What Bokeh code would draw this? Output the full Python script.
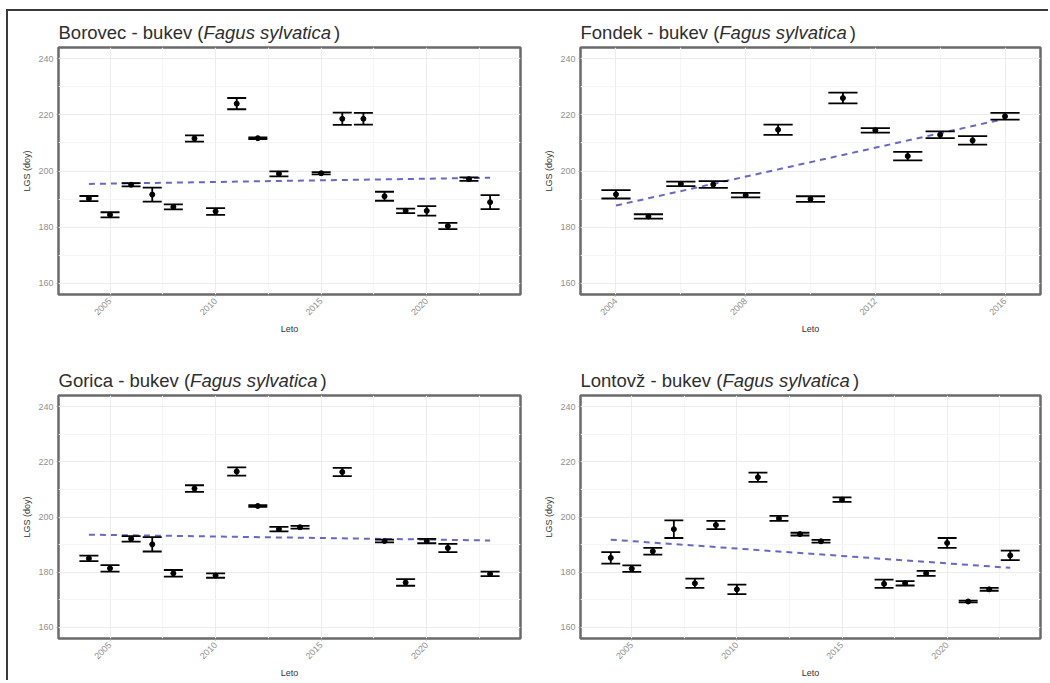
import math
from bokeh.plotting import figure
from bokeh.models import ColumnDataSource, Range1d, FixedTicker
from bokeh.core.properties import value
from bokeh.layouts import row, column
from bokeh.embed import file_html
from bokeh.resources import INLINE

# ---------------- data ----------------
species_common = "bukev"
species_latin = "Fagus sylvatica"
y_label = "LGS (doy)"
x_label = "Leto"
y_ticks = [160, 180, 200, 220, 240]
y_minor = [170, 190, 210, 230]
x_ticks_long = [2005, 2010, 2015, 2020]
x_minor_long = [2002.5, 2007.5, 2012.5, 2017.5, 2022.5]
x_ticks_fondek = [2004, 2008, 2012, 2016]
x_minor_fondek = [2002, 2006, 2010, 2014, 2018]

borovec_years = [2004, 2005, 2006, 2007, 2008, 2009, 2010, 2011, 2012, 2013,
                 2015, 2016, 2017, 2018, 2019, 2020, 2021, 2022, 2023]
borovec_lgs = [190.2, 184.4, 195.1, 191.6, 187.2, 211.6, 185.6, 224.0, 211.7, 199.0,
               199.2, 218.6, 218.6, 191.0, 185.8, 185.8, 180.4, 197.1, 188.9]
borovec_err = [0.9, 0.9, 0.6, 2.5, 0.9, 1.1, 1.2, 2.0, 0.3, 0.9,
               0.4, 2.2, 2.1, 1.6, 0.8, 1.7, 1.1, 0.6, 2.5]
borovec_trend_years = [2004, 2023]
borovec_trend_lgs = [195.4, 197.6]

fondek_years = [2004, 2005, 2006, 2007, 2008, 2009, 2010, 2011, 2012, 2013,
                2014, 2015, 2016]
fondek_lgs = [191.7, 183.8, 195.4, 195.2, 191.4, 214.7, 190.0, 226.0, 214.5, 205.3,
              212.9, 210.9, 219.5]
fondek_err = [1.5, 0.8, 0.8, 1.2, 0.8, 1.8, 1.0, 1.9, 0.8, 1.5,
              1.2, 1.5, 1.2]
fondek_trend_years = [2004, 2016]
fondek_trend_lgs = [187.7, 218.6]

gorica_years = [2004, 2005, 2006, 2007, 2008, 2009, 2010, 2011, 2012, 2013,
                2014, 2016, 2018, 2019, 2020, 2021, 2023]
gorica_lgs = [185.0, 181.4, 192.1, 190.1, 179.6, 210.3, 178.8, 216.5, 204.0, 195.6,
              196.3, 216.3, 191.3, 176.3, 191.3, 188.8, 179.4]
gorica_err = [1.0, 1.2, 1.0, 2.6, 1.2, 1.2, 0.8, 1.5, 0.3, 0.8,
              0.5, 1.5, 0.5, 1.2, 0.8, 1.5, 0.8]
gorica_trend_years = [2004, 2023]
gorica_trend_lgs = [193.6, 191.5]

lontovz_years = [2004, 2005, 2006, 2007, 2008, 2009, 2010, 2011, 2012, 2013,
                 2014, 2015, 2017, 2018, 2019, 2020, 2021, 2022, 2023]
lontovz_lgs = [185.2, 181.3, 187.6, 195.6, 176.0, 197.1, 173.8, 214.4, 199.5, 193.8,
               191.2, 206.3, 175.8, 176.0, 179.6, 190.6, 169.4, 173.8, 186.1]
lontovz_err = [2.1, 1.2, 1.2, 3.2, 1.7, 1.5, 1.7, 1.7, 0.9, 0.5,
               0.5, 0.8, 1.5, 0.8, 0.9, 1.8, 0.3, 0.5, 1.7]
lontovz_trend_years = [2004, 2023]
lontovz_trend_lgs = [191.8, 181.6]

# ---------------- styling helpers ----------------
FONT = "Liberation Sans"
ARIAL = {' ': 278, '-': 333, '(': 333, ')': 333, 'B': 667, 'F': 611, 'G': 778, 'L': 556,
         'a': 556, 'b': 556, 'c': 500, 'd': 556, 'e': 556, 'g': 556, 'i': 222, 'k': 500,
         'l': 222, 'n': 556, 'o': 556, 'r': 333, 's': 500, 't': 278, 'u': 556, 'v': 500,
         'y': 500, 'z': 500, 'ž': 500}


def text_w(s, size):
    return sum(ARIAL.get(ch, 556) for ch in s) * size / 1000.0


def make_title(site, width, height, bl, br):
    """A thin strip above a panel holding the mixed normal/italic title."""
    fw = width - bl - br
    s = figure(width=width, height=height, output_backend="svg", toolbar_location=None,
               x_range=Range1d(0, fw), y_range=Range1d(0, height),
               x_axis_location=None, y_axis_location=None,
               min_border_left=bl, min_border_right=br, min_border_top=0, min_border_bottom=0)
    s.grid.visible = False
    s.outline_line_color = None
    s.background_fill_color = "white"
    s.border_fill_color = "white"
    fs = 18.5
    t1 = f"{site} - {species_common} ("
    t2 = species_latin
    t3 = ")"
    w1 = text_w(t1, fs)
    w2 = text_w(t2, fs)
    x0 = 0
    base = 12
    common = dict(text_font=value(FONT), text_font_size=value(f"{fs}px"),
                  text_color="#2e2e2e", text_baseline="alphabetic", text_align="left")
    s.text(x=[x0], y=[base], text=[t1], **common)
    s.text(x=[x0 + w1], y=[base], text=[t2], text_font_style="italic", **common)
    s.text(x=[x0 + w1 + w2 + 3], y=[base], text=[t3], **common)
    return s


def make_panel(site, years, lgs, err, tyears, tlgs, xr, xticks, xminor,
               width, strip_h, frame_h, bl, br, bb):
    half = 0.45
    src = ColumnDataSource(dict(
        x=years, y=lgs,
        lo=[m - e for m, e in zip(lgs, err)],
        hi=[m + e for m, e in zip(lgs, err)],
        xl=[x - half for x in years],
        xr=[x + half for x in years],
    ))
    top_pad = 3
    p = figure(width=width, height=top_pad + frame_h + bb, output_backend="svg",
               toolbar_location=None,
               x_range=Range1d(*xr), y_range=Range1d(156, 244),
               min_border_left=bl, min_border_right=br, min_border_top=top_pad,
               min_border_bottom=bb)
    p.background_fill_color = "white"
    p.border_fill_color = "white"
    p.outline_line_color = "#6a6a6a"
    p.outline_line_width = 2.5

    xt = FixedTicker(ticks=xticks, minor_ticks=xminor)
    yt = FixedTicker(ticks=y_ticks, minor_ticks=y_minor)
    p.xaxis.ticker = xt
    p.xgrid.ticker = xt
    p.yaxis.ticker = yt
    p.ygrid.ticker = yt
    for g in (p.xgrid, p.ygrid):
        g.grid_line_color = "#ececec"
        g.grid_line_width = 1
        g.minor_grid_line_color = "#f5f5f5"
        g.minor_grid_line_width = 1

    for ax in (p.xaxis, p.yaxis):
        ax.axis_line_color = None
        ax.major_tick_line_color = "#9a9a9a"
        ax.major_tick_out = 2
        ax.major_tick_in = 0
        ax.minor_tick_out = 0
        ax.minor_tick_in = 0
        ax.major_label_text_font = FONT
        ax.major_label_text_font_size = "9px"
        ax.major_label_text_color = "#8f8f8f"
        ax.major_label_standoff = 3
        ax.axis_label_text_font = FONT
        ax.axis_label_text_font_size = "9px"
        ax.axis_label_text_font_style = "normal"
        ax.axis_label_text_color = "#333333"
        ax.axis_label_standoff = 3
    p.xaxis.major_label_orientation = math.pi / 4
    p.xaxis.axis_label = x_label
    p.yaxis.axis_label = y_label

    p.line(tyears, tlgs, line_color="#6767c8", line_width=2, line_dash="6 5")
    p.segment(x0="x", y0="lo", x1="x", y1="hi", source=src, line_color="black", line_width=1.8)
    p.segment(x0="xl", y0="lo", x1="xr", y1="lo", source=src, line_color="black", line_width=1.8)
    p.segment(x0="xl", y0="hi", x1="xr", y1="hi", source=src, line_color="black", line_width=1.8)
    p.scatter(x="x", y="y", source=src, size=5, color="black")

    strip = make_title(site, width, strip_h, bl, br)
    return column(strip, p, spacing=0)


c1 = make_panel("Borovec", borovec_years, borovec_lgs, borovec_err,
                borovec_trend_years, borovec_trend_lgs, (2002.56, 2024.44),
                x_ticks_long, x_minor_long, 532, 33, 247, 50, 20, 51)
c2 = make_panel("Fondek", fondek_years, fondek_lgs, fondek_err,
                fondek_trend_years, fondek_trend_lgs, (2002.905, 2017.095),
                x_ticks_fondek, x_minor_fondek, 508, 33, 247, 40, 8, 51)
c3 = make_panel("Gorica", gorica_years, gorica_lgs, gorica_err,
                gorica_trend_years, gorica_trend_lgs, (2002.56, 2024.44),
                x_ticks_long, x_minor_long, 532, 47, 245, 50, 20, 40)
c4 = make_panel("Lontovž", lontovz_years, lontovz_lgs, lontovz_err,
                lontovz_trend_years, lontovz_trend_lgs, (2002.56, 2024.44),
                x_ticks_long, x_minor_long, 508, 47, 245, 40, 8, 40)

grid = column(row(c1, c2), row(c3, c4),
              styles={"border-top": "2px solid #3a3a3a", "border-left": "2px solid #3a3a3a"})
outer = column(grid, styles={"padding-top": "9px", "padding-left": "6px"})

open("out.html", "w").write(file_html(outer, INLINE))
